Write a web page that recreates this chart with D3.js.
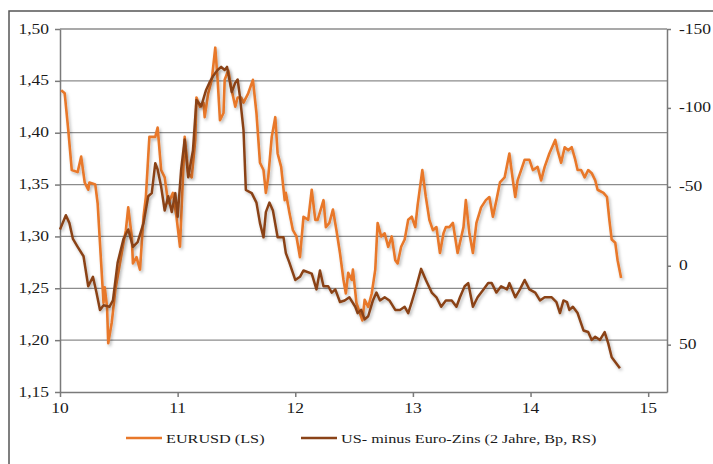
<!DOCTYPE html>
<html><head><meta charset="utf-8">
<script src="https://cdn.jsdelivr.net/npm/d3@7"></script>
<style>body{margin:0;background:#fff}svg{display:block}</style>
</head><body><div id="chart"></div>
<script>
const eurDates = [10.01,10.04,10.07,10.10,10.15,10.18,10.21,10.24,10.25,10.30,10.32,10.35,10.37,10.38,10.40,10.41,10.44,10.47,10.51,10.54,10.56,10.58,10.61,10.62,10.65,10.68,10.71,10.73,10.75,10.76,10.81,10.83,10.86,10.89,10.92,10.96,10.99,11.02,11.06,11.09,11.12,11.15,11.16,11.19,11.22,11.23,11.26,11.29,11.32,11.34,11.36,11.39,11.40,11.43,11.46,11.49,11.51,11.54,11.56,11.60,11.64,11.67,11.70,11.73,11.75,11.77,11.80,11.83,11.85,11.88,11.91,11.92,11.95,11.98,12.01,12.04,12.07,12.11,12.14,12.17,12.19,12.24,12.26,12.29,12.32,12.35,12.38,12.41,12.43,12.45,12.48,12.49,12.52,12.55,12.57,12.59,12.62,12.65,12.68,12.70,12.73,12.76,12.79,12.82,12.85,12.87,12.90,12.93,12.96,12.99,13.02,13.04,13.08,13.11,13.14,13.17,13.20,13.23,13.26,13.28,13.31,13.34,13.38,13.43,13.45,13.48,13.51,13.54,13.58,13.62,13.65,13.68,13.71,13.74,13.78,13.82,13.85,13.87,13.89,13.92,13.95,13.99,14.02,14.06,14.09,14.12,14.16,14.21,14.23,14.26,14.29,14.32,14.35,14.38,14.40,14.43,14.46,14.49,14.52,14.55,14.57,14.62,14.65,14.67,14.69,14.72,14.74,14.77];
const eurValues = [1.441,1.438,1.403,1.364,1.362,1.377,1.352,1.345,1.352,1.350,1.332,1.274,1.236,1.251,1.232,1.197,1.217,1.248,1.274,1.294,1.306,1.328,1.300,1.274,1.280,1.268,1.319,1.338,1.377,1.396,1.396,1.405,1.364,1.357,1.332,1.342,1.319,1.290,1.396,1.361,1.357,1.393,1.434,1.425,1.429,1.415,1.438,1.451,1.482,1.451,1.412,1.419,1.451,1.460,1.441,1.425,1.434,1.434,1.429,1.438,1.451,1.419,1.371,1.364,1.342,1.357,1.396,1.415,1.380,1.367,1.335,1.342,1.323,1.306,1.300,1.280,1.319,1.316,1.345,1.316,1.316,1.335,1.309,1.313,1.326,1.306,1.284,1.258,1.245,1.265,1.258,1.268,1.236,1.226,1.219,1.239,1.232,1.245,1.268,1.313,1.300,1.303,1.290,1.300,1.277,1.274,1.290,1.297,1.316,1.319,1.309,1.330,1.364,1.338,1.316,1.306,1.309,1.284,1.303,1.309,1.309,1.313,1.284,1.309,1.335,1.303,1.284,1.313,1.328,1.335,1.338,1.319,1.335,1.352,1.357,1.380,1.354,1.338,1.354,1.364,1.374,1.374,1.364,1.367,1.354,1.367,1.380,1.393,1.383,1.371,1.386,1.383,1.386,1.374,1.364,1.364,1.357,1.364,1.361,1.354,1.345,1.342,1.338,1.316,1.297,1.294,1.277,1.260];
const spreadDates = [10.00,10.05,10.08,10.11,10.15,10.20,10.24,10.28,10.31,10.34,10.37,10.42,10.45,10.49,10.54,10.58,10.62,10.66,10.71,10.75,10.78,10.81,10.83,10.86,10.89,10.92,10.95,10.98,11.00,11.03,11.06,11.09,11.13,11.16,11.20,11.24,11.27,11.30,11.34,11.37,11.40,11.42,11.46,11.49,11.51,11.53,11.56,11.58,11.63,11.67,11.70,11.73,11.75,11.78,11.81,11.85,11.90,11.92,11.95,12.00,12.04,12.07,12.14,12.18,12.21,12.24,12.28,12.31,12.34,12.38,12.42,12.46,12.51,12.53,12.56,12.59,12.62,12.66,12.69,12.72,12.76,12.80,12.85,12.89,12.93,12.96,12.99,13.03,13.07,13.11,13.16,13.20,13.24,13.28,13.33,13.37,13.40,13.44,13.47,13.51,13.55,13.60,13.64,13.67,13.71,13.75,13.80,13.82,13.87,13.91,13.95,13.99,14.04,14.08,14.12,14.18,14.22,14.25,14.28,14.31,14.33,14.36,14.40,14.45,14.49,14.52,14.55,14.59,14.63,14.66,14.69,14.72,14.76];
const spreadValues = [-23,-32,-27,-17,-12,-6,13,7,17,28,25,26,22,-2,-17,-23,-12,-15,-27,-44,-46,-65,-61,-50,-35,-44,-34,-46,-31,-61,-80,-56,-73,-105,-101,-111,-116,-120,-124,-126,-124,-126,-110,-116,-118,-107,-86,-48,-46,-40,-27,-18,-34,-40,-35,-18,-18,-8,-2,9,7,3,5,15,3,13,13,17,15,23,22,20,26,30,28,34,32,22,17,22,20,22,28,28,26,30,23,13,2,9,17,20,26,22,22,26,20,13,11,26,20,15,11,11,17,13,15,11,20,15,9,15,17,22,20,20,23,30,22,23,28,26,30,41,42,47,45,47,42,49,58,61,65];
const xTicks = [10,11,12,13,14,15];
const leftTicks = [1.15,1.20,1.25,1.30,1.35,1.40,1.45,1.50];
const rightTicks = [-150,-100,-50,0,50];
const seriesNames = ["EURUSD (LS)","US- minus Euro-Zins (2 Jahre, Bp, RS)"];
const colors = ["#e8782a","#8a4318"];

const W = 713, H = 464;
const svg = d3.select("#chart").append("svg").attr("width", W).attr("height", H);
svg.append("rect").attr("width", W).attr("height", H).attr("fill", "#fff");
svg.append("rect").attr("x", 9).attr("y", 11).attr("width", 740).attr("height", 500)
  .attr("fill", "none").attr("stroke", "#555").attr("stroke-width", 1.5);

const defs = svg.append("defs");
const f = defs.append("filter").attr("id","sh").attr("x","-5%").attr("y","-5%").attr("width","110%").attr("height","110%");
f.append("feDropShadow").attr("dx",1.5).attr("dy",2).attr("stdDeviation",1.4).attr("flood-color","#000").attr("flood-opacity",0.28);

const x = d3.scaleLinear().domain([10, 15.16]).range([60, 667]);
const yL = d3.scaleLinear().domain([1.15, 1.50]).range([392, 29]);
const yR = d3.scaleLinear().domain([-150, 80]).range([29, 392]);

const FONT = "Liberation Serif, Times New Roman, serif";
function label(g, px, py, txt, anchor, fs, sx) {
  g.append("text").attr("transform", `translate(${px},${py}) scale(${sx},1)`)
   .attr("text-anchor", anchor).attr("font-family", FONT).attr("font-size", fs)
   .attr("fill", "#1a1a1a").text(txt);
}

// gridlines
svg.append("g").selectAll("line").data(leftTicks.filter(d => d > 1.15)).join("line")
  .attr("x1", x(10)).attr("x2", x(15.16)).attr("y1", d => yL(d)).attr("y2", d => yL(d))
  .attr("stroke", "#8c8c8c").attr("stroke-width", 1.3);

const axisStyle = g => { g.selectAll("path,line").attr("stroke", "#7a7a7a").attr("stroke-width", 1.5); g.selectAll("text").remove(); };
svg.append("g").attr("transform", "translate(60,0)")
  .call(d3.axisLeft(yL).tickValues(leftTicks).tickSize(5).tickSizeOuter(0)).call(axisStyle);
svg.append("g").attr("transform", "translate(667,0)")
  .call(d3.axisRight(yR).tickValues(rightTicks).tickSize(4).tickSizeOuter(0)).call(axisStyle);
svg.append("g").attr("transform", "translate(0,392)")
  .call(d3.axisBottom(x).tickValues(xTicks).tickSize(5).tickSizeOuter(0)).call(axisStyle);

const lg = svg.append("g");
leftTicks.forEach(v => label(lg, 49, yL(v) + 4.5, d3.format(".2f")(v).replace(".", ","), "end", 14, 1.25));
rightTicks.forEach(v => label(lg, 679, yR(v) + 4.5, String(v), "start", 14, 1.25));
xTicks.forEach(v => label(lg, x(v), 413, String(v), "middle", 14, 1.25));

const eurData = eurDates.map((d, i) => [d, eurValues[i]]);
const spreadData = spreadDates.map((d, i) => [d, spreadValues[i]]);
const lineL = d3.line().x(d => x(d[0])).y(d => yL(d[1]));
const lineR = d3.line().x(d => x(d[0])).y(d => yR(d[1]));
svg.append("path").datum(eurData).attr("d", lineL).attr("fill", "none")
  .attr("stroke", colors[0]).attr("stroke-width", 2.6).attr("stroke-linejoin", "round").attr("filter", "url(#sh)");
svg.append("path").datum(spreadData).attr("d", lineR).attr("fill", "none")
  .attr("stroke", colors[1]).attr("stroke-width", 2.5).attr("stroke-linejoin", "round").attr("filter", "url(#sh)");

// legend
const leg = svg.append("g");
const legY = 438;
[[126, 0], [301, 1]].forEach(([lx, i]) => {
  leg.append("line").attr("x1", lx).attr("x2", lx + 36).attr("y1", legY).attr("y2", legY)
    .attr("stroke", colors[i]).attr("stroke-width", 2.6);
  label(leg, lx + 40, legY + 4.5, seriesNames[i], "start", 13.5, 1.2);
});
</script></body></html>
